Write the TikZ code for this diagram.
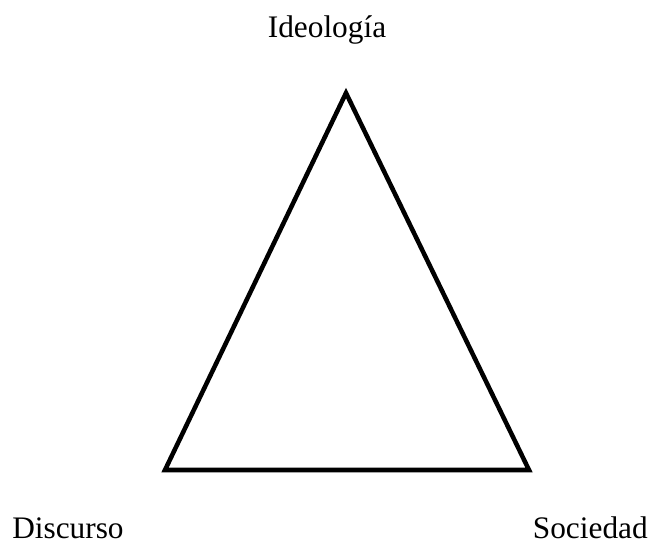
\documentclass[tikz,border=0pt]{standalone}
\usepackage{fontspec}
\setmainfont{Liberation Serif}
\usepackage{tikz}
\tikzstyle{label} = [inner sep=0pt, font=\fontsize{23.5}{28}\selectfont]
\tikzstyle{edge} = [draw, line width=3.4pt, line join=miter]

\begin{document}
\begin{tikzpicture}[x=0.75pt, y=-0.75pt]
    \useasboundingbox (0,0) rectangle (654,546);
    % We start by placing the corners
    \coordinate (apex) at (346,93);
    \coordinate (left) at (165,470);
    \coordinate (right) at (529,470);

    % Labels of the three corners
    \node [label, anchor=base] (ideologia) at (327,37) {Ideología};
    \node [label, anchor=base west] (discurso) at (12,538) {Discurso};
    \node [label, anchor=base east] (sociedad) at (648,538) {Sociedad};

    % Then the triangle
    \draw [edge] (apex) -- (left) -- (right) -- cycle;
\end{tikzpicture}
\end{document}
